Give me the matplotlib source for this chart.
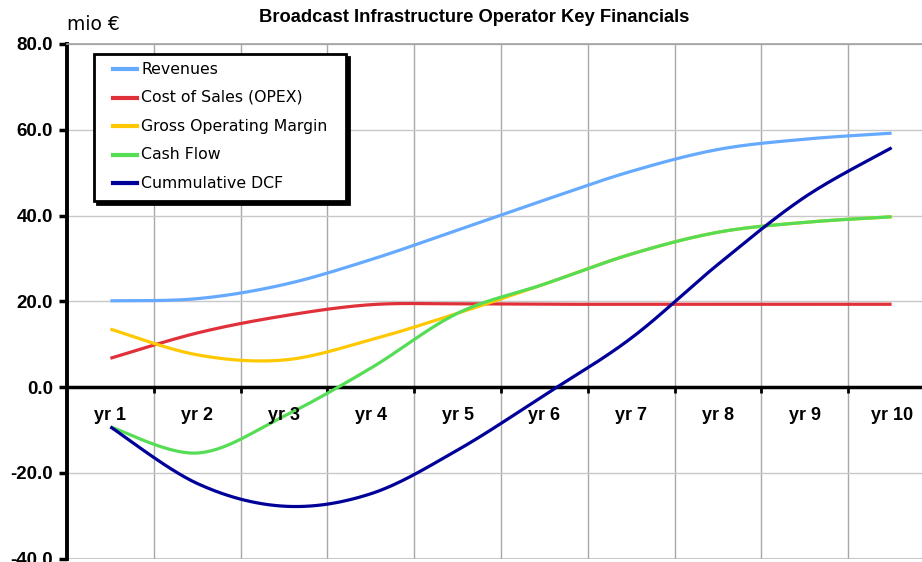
"""Recria o grafico de indicadores financeiros do operador de infraestrutura."""

import matplotlib

matplotlib.use("Agg")
import matplotlib.pyplot as plt
import numpy as np
from matplotlib.lines import Line2D
from matplotlib.patches import Rectangle

plt.rcParams["font.family"] = ["Liberation Sans", "DejaVu Sans"]

ANOS = ["yr 1", "yr 2", "yr 3", "yr 4", "yr 5", "yr 6", "yr 7", "yr 8", "yr 9", "yr 10"]
RECEITAS = [20.1, 20.6, 23.9, 29.7, 36.6, 43.6, 50.3, 55.4, 57.8, 59.2]
CUSTO_VENDAS = [6.7, 12.6, 16.6, 19.2, 19.4, 19.3, 19.3, 19.3, 19.3, 19.3]
MARGEM_BRUTA = [13.5, 7.5, 6.3, 11.0, 17.2, 24.0, 31.0, 36.1, 38.4, 39.7]
FLUXO_CAIXA = [-9.3, -15.4, -6.8, 4.4, 17.2, 24.0, 31.0, 36.1, 38.4, 39.7]
DCF_ACUMULADO = [-9.3, -22.5, -27.8, -24.9, -14.7, -1.9, 11.4, 28.6, 44.3, 55.8]

SERIES = [
    ("Revenues", RECEITAS, "#66AAFF"),
    ("Cost of Sales (OPEX)", CUSTO_VENDAS, "#E0303A"),
    ("Gross Operating Margin", MARGEM_BRUTA, "#FFC800"),
    ("Cash Flow", FLUXO_CAIXA, "#55DD55"),
    ("Cummulative DCF", DCF_ACUMULADO, "#000099"),
]

W, H = 922, 562


def _suavizar(valores, passos=30):
    # curva tipo "smoothed line" do Excel (bezier com pontos de controle a 1/6)
    pts = np.column_stack([np.arange(len(valores), dtype=float), np.asarray(valores, float)])
    ext = np.vstack([pts[0], pts, pts[-1]])
    t = np.linspace(0, 1, passos)[1:, None]
    saida = [pts[0]]
    for i in range(len(pts) - 1):
        p0, p3 = ext[i + 1], ext[i + 2]
        c1 = p0 + (ext[i + 2] - ext[i]) / 6
        c2 = p3 - (ext[i + 3] - ext[i + 1]) / 6
        seg = (1 - t) ** 3 * p0 + 3 * (1 - t) ** 2 * t * c1 + 3 * (1 - t) * t ** 2 * c2 + t ** 3 * p3
        saida.extend(seg)
    arr = np.array(saida)
    return arr[:, 0], arr[:, 1]


def _fx(px):
    return px / W


def _fy(py):
    return 1 - py / H


fig = plt.figure(figsize=(W / 100, H / 100), dpi=100)
x0, x1 = 67, 935
y_top, y_bot = 44, 558.5
ax = fig.add_axes([_fx(x0), _fy(y_bot), (x1 - x0) / W, (y_bot - y_top) / H])
ax.set_xlim(-0.5, len(ANOS) - 0.5)
ax.set_ylim(-40, 80)

for nome, valores, cor in SERIES:
    xs, ys = _suavizar(valores)
    ax.plot(xs, ys, color=cor, lw=2.3, solid_capstyle="butt", zorder=3)

# eixos no estilo Excel
yticks = np.arange(-40, 81, 20)
ax.set_yticks(yticks)
ax.set_yticklabels([f"{v:.1f}" for v in yticks], fontsize=13.5, fontweight="bold")
ax.set_xticks(np.arange(0.5, len(ANOS) - 1, 1.0))
ax.set_xticklabels([])
ax.tick_params(axis="x", which="major", direction="out", length=4, width=2)
ax.tick_params(axis="y", direction="out", length=6, width=2.5, pad=4)
for i, ano in enumerate(ANOS):
    ax.text(i, -6.7, ano, ha="center", va="center", fontsize=13, fontweight="bold")

ax.grid(True, axis="y", color="#c8c8c8", lw=1, zorder=0)
ax.grid(True, axis="x", which="major", color="#a8a8a8", lw=1, zorder=0)
ax.spines["bottom"].set_position(("data", 0))
ax.spines["bottom"].set_linewidth(2.5)
ax.spines["left"].set_linewidth(2.8)
ax.spines["top"].set_color("#a0a0a0")
ax.spines["top"].set_linewidth(1.2)
ax.spines["right"].set_visible(False)
ax.set_axisbelow(True)
ax.axhline(-40, color="#c8c8c8", lw=1.5, zorder=0)

fig.text(_fx(474), _fy(17), "Broadcast Infrastructure Operator Key Financials",
         ha="center", va="center", fontsize=13.2, fontweight="bold")
fig.text(_fx(67), _fy(25), "mio €", ha="left", va="center", fontsize=13.5, family="DejaVu Sans")

# legenda desenhada a mao (caixa com sombra preta, como no Excel)
lx0, ly0, lx1, ly1 = 94, 54, 346, 201
fig.add_artist(Rectangle((_fx(lx0 + 3), _fy(ly1 + 3)), (lx1 - lx0) / W, (ly1 - ly0) / H,
                         transform=fig.transFigure, facecolor="black", edgecolor="black", lw=2, zorder=10))
fig.add_artist(Rectangle((_fx(lx0), _fy(ly1)), (lx1 - lx0) / W, (ly1 - ly0) / H,
                         transform=fig.transFigure, facecolor="white", edgecolor="black", lw=2, zorder=11))
for k, (nome, _, cor) in enumerate(SERIES):
    yy = 69 + k * 28.5
    fig.add_artist(Line2D([_fx(113), _fx(137)], [_fy(yy), _fy(yy)], transform=fig.transFigure,
                          color=cor, lw=3, zorder=12))
    fig.text(_fx(141), _fy(yy), nome, ha="left", va="center", fontsize=11.3,
             family="DejaVu Sans", zorder=12)

fig.savefig("out.png", dpi=100)
